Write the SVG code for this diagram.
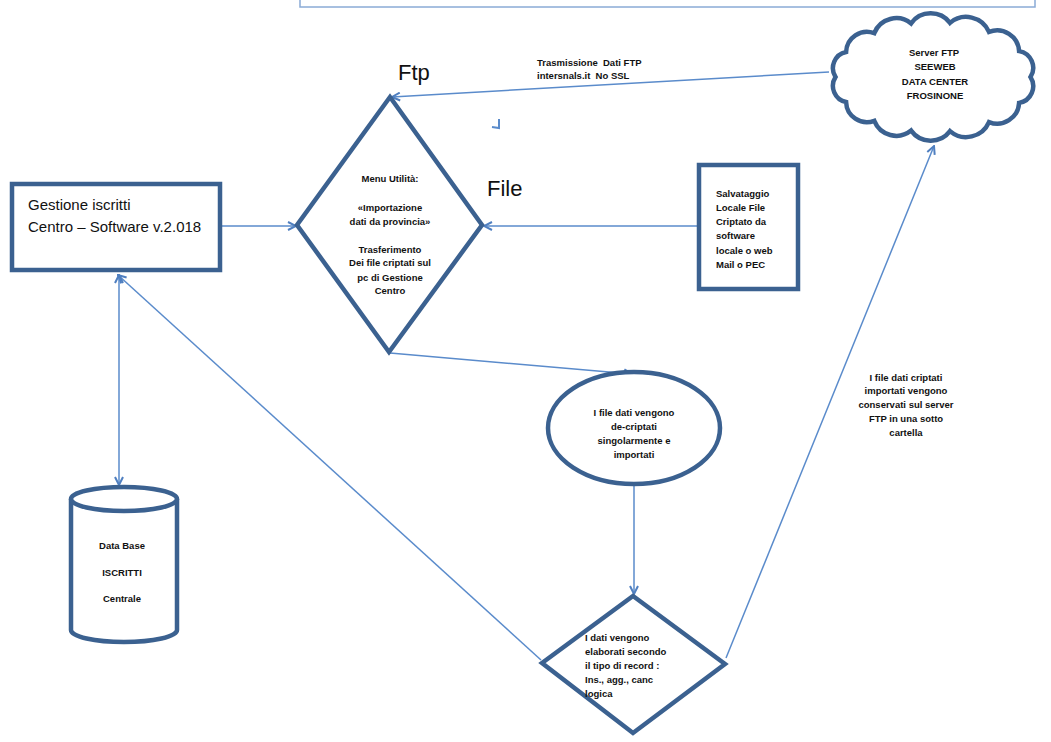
<svg xmlns="http://www.w3.org/2000/svg" width="1051" height="742" viewBox="0 0 1051 742">
<defs>
<style>
.node{fill:#fff;stroke:#3B6190;stroke-width:4.5;stroke-linejoin:miter}
.conn{fill:none;stroke:#5A8BCB;stroke-width:1.5}
.t{font-family:"Liberation Sans",Arial,sans-serif;font-size:9.5px;font-weight:bold;fill:#111;white-space:pre}
.c{text-anchor:middle}
.big{font-family:"Liberation Sans",Arial,sans-serif;font-size:22px;fill:#111}
.mid{font-family:"Liberation Sans",Arial,sans-serif;font-size:15px;fill:#111}
</style>
<marker id="arr" viewBox="0 0 10 10" refX="9" refY="5" markerWidth="10" markerHeight="10" markerUnits="userSpaceOnUse" orient="auto-start-reverse">
<path d="M1,1 L9,5 L1,9" fill="none" stroke="#4F7FC0" stroke-width="2"/>
</marker>
</defs>
<rect width="1051" height="742" fill="#fff"/>
<rect x="300" y="-10" width="735" height="17" fill="#fff" stroke="#8AABD6" stroke-width="1.5"/>

<g id="connectors">
<line class="conn" x1="829" y1="72" x2="392" y2="97" marker-end="url(#arr)"/>
<line class="conn" x1="222" y1="226" x2="296" y2="226" marker-end="url(#arr)"/>
<line class="conn" x1="697" y1="226" x2="484" y2="226" marker-end="url(#arr)"/>
<line class="conn" x1="390" y1="353" x2="632" y2="374" marker-end="url(#arr)"/>
<line class="conn" x1="634" y1="484" x2="634" y2="594" marker-end="url(#arr)"/>
<line class="conn" x1="541" y1="660" x2="118" y2="275" marker-end="url(#arr)"/>
<line class="conn" x1="119" y1="275" x2="119" y2="485" marker-start="url(#arr)" marker-end="url(#arr)"/>
<line class="conn" x1="726" y1="658" x2="934" y2="146" marker-end="url(#arr)"/>
<path d="M499,119 L499,128 L492,127" fill="none" stroke="#5A8BCB" stroke-width="2"/>
</g>

<text class="big" x="398" y="80">Ftp</text>
<text class="big" x="487" y="196">File</text>
<text class="t" x="537" y="66">Trasmissione  Dati FTP</text>
<text class="t" x="537" y="79">intersnals.it  No SSL</text>
<g class="t c">
<text x="906" y="381">I file dati criptati</text>
<text x="906" y="394">importati vengono</text>
<text x="906" y="408">conservati sul server</text>
<text x="906" y="422">FTP in una sotto</text>
<text x="906" y="436">cartella</text>
</g>

<g id="cloud">
<path class="node" d="M1030.5,77 A17,17 0 0 1 1019.1,102.9 A22,22 0 0 1 989,122.1 A24.9,24.9 0 0 1 950,131.1 A24.2,24.2 0 0 1 911.1,130.6 A23.7,23.7 0 0 1 874.3,120.9 A20.9,20.9 0 0 1 846.1,102 A16.5,16.5 0 0 1 835.5,77 A16.5,16.5 0 0 1 846.1,52 A20.9,20.9 0 0 1 874.3,33.1 A23.7,23.7 0 0 1 911.1,23.4 A24.2,24.2 0 0 1 950,22.9 A24.9,24.9 0 0 1 989,31.9 A22,22 0 0 1 1019.1,51.1 A17,17 0 0 1 1030.5,77 Z"/>
<g class="t c">
<text x="934" y="56">Server FTP</text>
<text x="935" y="70">SEEWEB</text>
<text x="935" y="85">DATA CENTER</text>
<text x="935" y="99">FROSINONE</text>
</g>
</g>

<g id="menu">
<polygon class="node" points="390,97 482,225 389,352 297,225"/>
<g class="t c">
<text x="390" y="182">Menu Utilità:</text>
<text x="390" y="211">«Importazione</text>
<text x="390" y="225">dati da provincia»</text>
<text x="390" y="253">Trasferimento</text>
<text x="390" y="266">Dei file criptati sul</text>
<text x="390" y="281">pc di Gestione</text>
<text x="390" y="294">Centro</text>
</g>
</g>

<g id="salvataggio">
<rect class="node" x="699" y="165" width="99" height="124"/>
<g class="t">
<text x="716" y="197">Salvataggio</text>
<text x="716" y="211">Locale File</text>
<text x="716" y="225">Criptato da</text>
<text x="716" y="239">software</text>
<text x="716" y="254">locale o web</text>
<text x="716" y="268">Mail o PEC</text>
</g>
</g>

<g id="gestione">
<rect class="node" x="12" y="184" width="208" height="86"/>
<text class="mid" x="28" y="210">Gestione iscritti</text>
<text class="mid" x="28" y="232">Centro – Software v.2.018</text>
</g>

<g id="decripta">
<ellipse class="node" cx="634" cy="428" rx="86" ry="56"/>
<g class="t c">
<text x="634" y="416">I file dati vengono</text>
<text x="634" y="430">de-criptati</text>
<text x="634" y="444">singolarmente e</text>
<text x="634" y="458">importati</text>
</g>
</g>

<g id="elabora">
<polygon class="node" points="633,596 725,664 633,733 542,663"/>
<g class="t">
<text x="585" y="641">I dati vengono</text>
<text x="585" y="655">elaborati secondo</text>
<text x="585" y="669">il tipo di record :</text>
<text x="585" y="683">Ins., agg., canc</text>
<text x="585" y="697">logica</text>
</g>
</g>

<g id="database">
<path class="node" d="M71,499 L71,630 A53,12 0 0 0 177,630 L177,499"/>
<ellipse class="node" cx="124" cy="499" rx="53" ry="12"/>
<g class="t c">
<text x="122" y="549">Data Base</text>
<text x="122" y="576">ISCRITTI</text>
<text x="122" y="602">Centrale</text>
</g>
</g>
</svg>
